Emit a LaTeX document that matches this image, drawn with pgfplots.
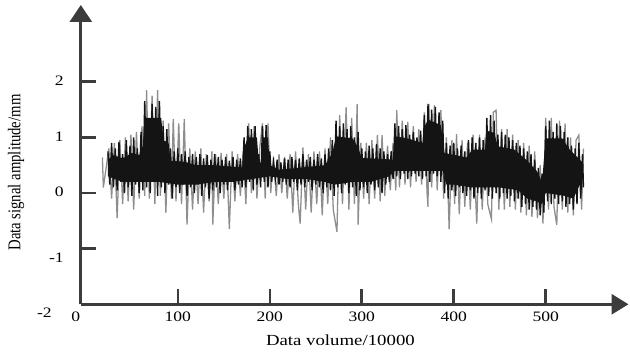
\documentclass[border=0pt]{standalone}
\usepackage{fontspec}
\setmainfont{Liberation Serif}[FakeStretch=1.22]
\newfontfamily\yfont{Liberation Serif}
\usepackage{graphicx}
\usepackage{pgfplots}
\pgfplotsset{compat=1.18}
\usetikzlibrary{arrows.meta}
\definecolor{axgray}{HTML}{3C3C3C}
\definecolor{siggray}{HTML}{8E8E8E}
\definecolor{sigblack}{HTML}{141414}
\begin{document}
\begin{tikzpicture}
\begin{axis}[
  name=ax,
  scale only axis,
  width=549bp, height=300bp,
  xmin=-5.5, xmax=590,
  ymin=-2, ymax=3.38,
  axis lines=left,
  axis line style={axgray, line width=3bp},
  x axis line style={-{Triangle[width=20bp,length=17bp]}},
  y axis line style={-{Triangle[width=22bp,length=17bp]}},
  tick align=inside,
  major tick length=15bp,
  every tick/.style={axgray, line width=2.6bp},
  xtick={100,200,300,400,500},
  xticklabels={100,200,300,400,500},
  ytick={0,1,2},
  yticklabels={0,1,2},
  extra y ticks={-1},
  extra y tick labels={-1},
  extra y tick style={yticklabel style={yshift=-10bp}},
  extra x ticks={0},
  extra x tick labels={0},
  extra x tick style={major tick length=0pt, xticklabel style={xshift=-10bp}},
  xticklabel style={font=\fontsize{14.5}{16}\selectfont, anchor=center, inner sep=0pt, yshift=-13bp},
  yticklabel style={font=\fontsize{14.5}{16}\selectfont, anchor=east, inner sep=0pt, xshift=-17bp, yshift=1bp},
  xlabel={Data volume/10000},
  ylabel={\scalebox{1}[1.22]{Data signal amplitude/mm}},
  every axis x label/.style={at={(rel axis cs:0.474,0)}, anchor=center, yshift=-36bp, font=\fontsize{15.5}{18}\selectfont},
  every axis y label/.style={at={(rel axis cs:-0.1184,0.44)}, anchor=center, rotate=90, font=\yfont\fontsize{14.8}{17}\selectfont},
  clip=false,
]
% light grey trace (drawn first, behind)
\addplot[siggray, line width=1.3bp, sharp plot, mark=none] coordinates {
(18,0.64) (19,0.1) (25,0.8) (28,-0.1) (31,0.9) (34,-0.45) (37,0.95) (40,-0.2)
(43,1.0) (46,-0.15) (49,1.05) (52,-0.3) (55,1.1) (58,-0.1) (61,1.2) (64,-0.05)
(66,1.85) (69,-0.1) (72,1.75) (75,-0.2) (78,1.85) (81,-0.05) (84,1.3) (87,-0.35)
(90,1.25) (93,-0.1) (95,1.33) (98,-0.15) (101,1.25) (104,-0.2) (107,1.33) (110,-0.57)
(113,0.8) (116,-0.3) (119,0.75) (122,-0.2) (125,0.8) (128,-0.35) (131,0.7) (134,-0.15)
(137,0.75) (138,-0.57) (141,0.7) (144,-0.2) (147,0.72) (150,-0.1) (153,0.7) (156,-0.65)
(159,0.75) (162,-0.15) (165,0.7) (168,-0.05) (171,0.75) (174,-0.2) (177,1.25) (180,0.0)
(183,1.2) (186,-0.1) (189,0.8) (192,1.25) (195,-0.1) (198,1.25) (201,0.0) (204,0.65)
(207,-0.05) (210,0.7) (213,0.0) (216,0.65) (219,-0.1) (222,0.7) (225,-0.35) (228,0.75)
(231,-0.2) (233,-0.55) (236,0.82) (239,-0.3) (242,0.7) (245,-0.35) (248,0.75) (251,-0.2)
(254,0.75) (257,-0.4) (260,0.8) (263,-0.2) (266,1.0) (269,-0.3) (273,-0.7) (276,1.4)
(279,-0.2) (283,1.54) (286,-0.3) (289,1.35) (292,-0.2) (295,1.6) (296,-0.57) (299,0.9)
(302,-0.1) (305,0.9) (308,-0.2) (311,0.95) (314,-0.1) (317,1.04) (320,-0.15) (322,1.04)
(325,-0.05) (328,0.85) (331,0.05) (334,0.9) (337,0.05) (338,1.49) (341,0.1) (344,1.3)
(347,0.15) (350,1.28) (353,0.1) (356,1.2) (359,0.2) (362,1.15) (365,0.15) (368,1.45)
(371,0.0) (372,-0.25) (373,1.6) (376,0.1) (379,1.58) (382,0.05) (386,1.49) (389,-0.1)
(392,1.0) (395,-0.65) (398,0.95) (401,-0.2) (403,1.06) (406,-0.38) (409,0.95) (412,-0.25)
(415,0.9) (418,-0.3) (421,1.05) (425,-0.55) (428,1.05) (431,-0.3) (434,1.0) (437,-0.2)
(441,-0.47) (443,1.45) (446,1.49) (449,-0.3) (452,1.15) (455,-0.3) (458,1.15) (461,-0.25)
(464,1.05) (467,-0.3) (470,0.95) (473,-0.35) (476,0.9) (479,-0.4) (482,0.85) (485,-0.43)
(488,0.75) (491,-0.45) (494,0.5) (497,-0.55) (500,1.35) (503,-0.3) (506,1.35) (509,-0.25)
(512,-0.57) (515,1.3) (518,-0.3) (521,1.25) (524,-0.35) (527,1.0) (530,-0.4) (533,0.95)
(536,1.04) (539,-0.3) (541,0.8)
};
% solid dark core of the band
\addplot[sigblack, fill=sigblack, draw=none, mark=none] coordinates {
(24,0.6) (30,0.68) (40,0.62) (50,0.72) (58,0.68) (62,0.85) (64,1.35) (82,1.35)
(84,0.95) (90,0.9) (92,0.58) (108,0.56) (120,0.5) (140,0.5) (170,0.46) (172,0.8)
(176,1.0) (186,1.0) (188,0.55) (191,0.55) (192,1.0) (198,1.0) (200,0.5) (210,0.42)
(230,0.45) (260,0.5) (268,0.72) (272,1.02) (290,0.98) (296,0.82) (300,0.63) (334,0.6)
(336,1.02) (350,0.98) (366,0.9) (368,1.18) (372,1.32) (386,1.22) (390,0.72) (414,0.64)
(420,0.78) (434,0.78) (436,1.12) (444,1.08) (448,0.84) (466,0.78) (480,0.58) (490,0.4)
(496,0.2) (500,0.98) (518,0.98) (526,0.78) (540,0.55)
(540,0.25) (530,-0.1) (520,-0.05) (500,0.0) (496,-0.2) (490,-0.15) (480,-0.1) (470,0.05)
(450,0.1) (440,0.1) (420,0.1) (400,0.15) (392,0.15) (388,0.4) (372,0.4) (350,0.4)
(336,0.4) (330,0.3) (310,0.2) (290,0.2) (270,0.15) (260,0.2) (240,0.25) (220,0.25)
(200,0.3) (180,0.25) (160,0.2) (140,0.2) (120,0.15) (100,0.15) (80,0.2) (60,0.2)
(40,0.2) (24,0.3)
} -- cycle;
% dark trace
\addplot[sigblack, line width=1.4bp, sharp plot, mark=none] coordinates {
(24,0.75) (26,0.15) (28,0.9) (30,0.1) (32,0.8) (34,0.05) (36,0.92) (38,0.2)
(40,0.7) (42,0.0) (44,0.95) (46,0.1) (48,0.85) (50,-0.05) (52,1.0) (54,0.15)
(56,0.8) (58,0.0) (60,1.1) (62,0.05) (64,1.65) (66,0.1) (68,1.3) (70,0.0)
(72,1.6) (74,0.2) (76,1.55) (78,-0.05) (80,1.65) (82,0.1) (84,1.2) (86,0.0)
(88,1.15) (90,0.15) (92,0.8) (94,-0.1) (96,0.75) (98,0.1) (100,0.8) (102,0.0)
(104,0.7) (106,0.15) (108,0.75) (110,-0.05) (112,0.65) (114,0.1) (116,0.7) (118,0.0)
(120,0.65) (122,0.15) (124,0.7) (126,-0.05) (128,0.62) (130,0.1) (132,0.68) (134,-0.1)
(136,0.6) (138,0.05) (140,0.7) (142,0.1) (144,0.65) (146,0.0) (148,0.6) (150,0.15)
(152,0.65) (154,0.05) (156,0.58) (158,0.2) (160,0.65) (162,0.05) (164,0.6) (166,0.15)
(168,0.62) (170,0.1) (172,1.0) (174,0.1) (176,1.2) (178,0.2) (180,1.15) (182,0.05)
(184,1.2) (186,0.15) (188,0.7) (190,0.1) (192,1.2) (194,0.2) (196,1.22) (198,0.1)
(200,0.75) (202,0.2) (204,0.55) (206,0.25) (208,0.6) (210,0.15) (212,0.55) (214,0.2)
(216,0.62) (218,0.15) (220,0.6) (222,0.1) (224,0.65) (226,0.2) (228,0.6) (230,0.05)
(232,0.62) (234,0.15) (236,0.7) (238,0.1) (240,0.6) (242,0.2) (244,0.65) (246,0.05)
(248,0.6) (250,0.15) (252,0.7) (254,0.1) (256,0.62) (258,0.0) (260,0.7) (262,0.1)
(264,0.8) (266,0.05) (268,0.95) (270,-0.05) (272,1.3) (274,0.1) (276,1.2) (278,0.0)
(280,1.25) (282,0.15) (284,1.15) (286,0.0) (288,1.2) (290,0.1) (292,1.0) (294,-0.05)
(296,1.1) (298,0.05) (300,0.8) (302,0.1) (304,0.75) (306,0.0) (308,0.85) (310,0.15)
(312,0.8) (314,0.05) (316,0.88) (318,0.1) (320,0.8) (322,0.0) (324,0.75) (326,0.15)
(328,0.7) (330,0.2) (332,0.75) (334,0.25) (336,1.25) (338,0.3) (340,1.2) (342,0.25)
(344,1.15) (346,0.35) (348,1.22) (350,0.25) (352,1.05) (354,0.3) (356,1.1) (358,0.35)
(360,1.0) (362,0.3) (364,1.12) (366,0.25) (368,1.4) (370,0.3) (372,1.6) (374,0.2)
(376,1.5) (378,0.35) (380,1.55) (382,0.3) (384,1.45) (386,0.2) (388,1.3) (390,0.0)
(392,0.9) (394,-0.1) (396,0.85) (398,0.05) (400,0.9) (402,-0.05) (404,0.8) (406,0.1)
(408,0.85) (410,0.0) (412,0.75) (414,-0.05) (416,0.95) (418,0.05) (420,1.0) (422,-0.1)
(424,0.9) (426,0.0) (428,1.0) (430,-0.1) (432,0.95) (434,0.05) (436,1.35) (438,-0.05)
(440,1.4) (442,-0.1) (444,1.3) (446,0.0) (448,1.05) (450,-0.1) (452,1.1) (454,0.0)
(456,1.05) (458,-0.1) (460,1.0) (462,-0.05) (464,0.95) (466,-0.15) (468,0.9) (470,-0.1)
(472,0.85) (474,-0.25) (476,0.8) (478,-0.2) (480,0.75) (482,-0.3) (484,0.7) (486,-0.25)
(488,0.6) (490,-0.3) (492,0.45) (494,-0.4) (496,0.35) (498,-0.35) (500,1.2) (502,-0.15)
(504,1.3) (506,-0.2) (508,1.1) (510,-0.1) (512,1.25) (514,-0.2) (516,1.2) (518,-0.15)
(520,1.1) (522,-0.25) (524,1.0) (526,-0.2) (528,0.85) (530,-0.3) (532,0.8) (534,-0.2)
(536,0.9) (538,-0.1) (540,0.7) (541,0.1)
};
\node[anchor=east, inner sep=0pt, font=\fontsize{14.5}{16}\selectfont] at (rel axis cs:0,0) [xshift=-29bp, yshift=-8bp] {-2};
\end{axis}
\path[use as bounding box] ([xshift=-81bp,yshift=-51bp]ax.south west) rectangle ([yshift=5bp]ax.north east);
\end{tikzpicture}
\end{document}
